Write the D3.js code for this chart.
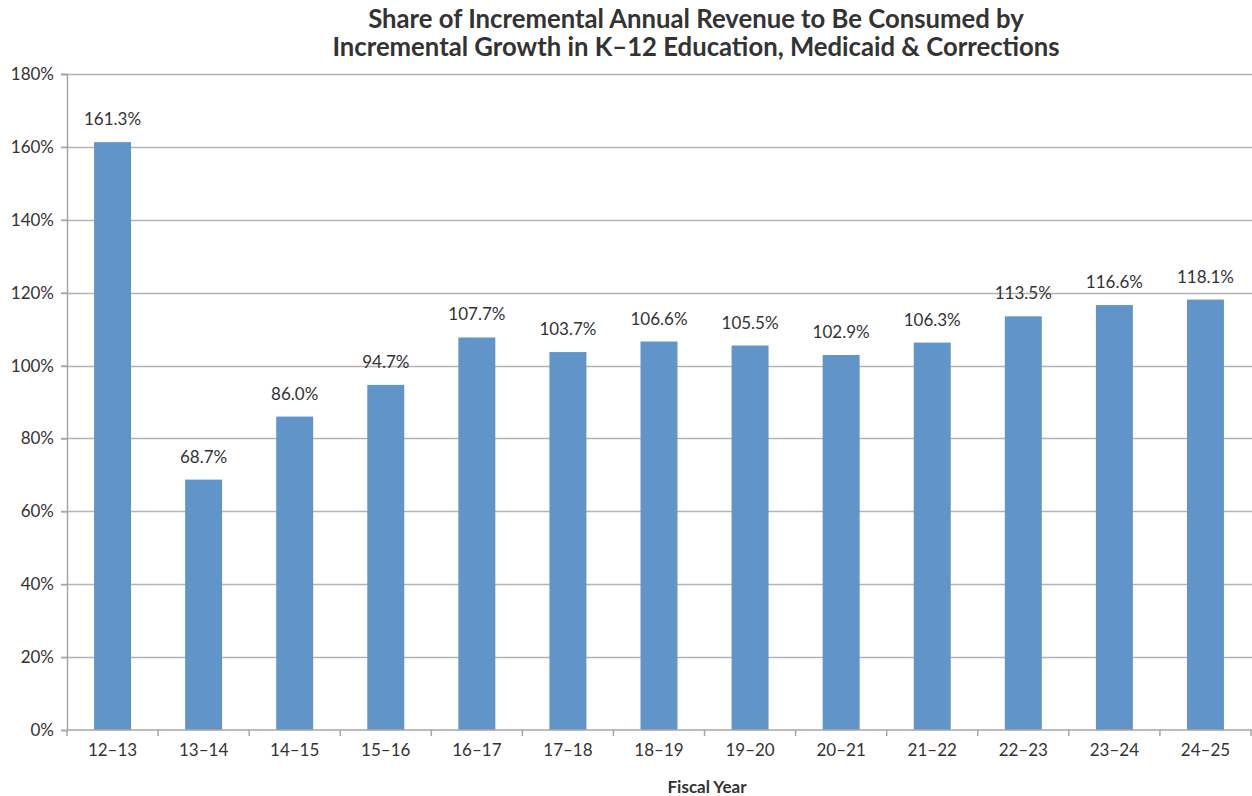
<!DOCTYPE html>
<html>
<head>
<meta charset="utf-8">
<script src="https://cdn.jsdelivr.net/npm/d3@7"></script>
<style>
  body { margin: 0; background: #fff; }
  svg { display: block; }
</style>
</head>
<body>
<svg id="chart"></svg>
<script>
// Fiscal years and share of incremental revenue consumed (%)
const years = ["12–13","13–14","14–15","15–16","16–17","17–18","18–19","19–20","20–21","21–22","22–23","23–24","24–25"];
const shares = [161.3, 68.7, 86.0, 94.7, 107.7, 103.7, 106.6, 105.5, 102.9, 106.3, 113.5, 116.6, 118.1];
const yTicks = [0, 20, 40, 60, 80, 100, 120, 140, 160, 180];

const width = 1252, height = 796;
const margin = {top: 74, right: 1, bottom: 66, left: 67};

const svg = d3.select("#chart").attr("width", width).attr("height", height);
const fontFam = "Lato, 'Open Sans', sans-serif";

const x = d3.scaleBand()
  .domain(years)
  .range([margin.left, width - margin.right])
  .paddingInner(0.594)
  .paddingOuter(0.297);

const y = d3.scaleLinear()
  .domain([0, 180])
  .range([height - margin.bottom, margin.top]);

// gridlines
svg.append("g")
  .selectAll("line")
  .data(yTicks.slice(1))
  .enter().append("line")
  .attr("x1", margin.left - 6)
  .attr("x2", width)
  .attr("y1", d => Math.round(y(d)) + 0.5)
  .attr("y2", d => Math.round(y(d)) + 0.5)
  .attr("stroke", "#b3b3b3")
  .attr("stroke-width", 1.5);

// bars
svg.append("g")
  .selectAll("rect")
  .data(shares)
  .enter().append("rect")
  .attr("x", (d, i) => x(years[i]))
  .attr("width", x.bandwidth())
  .attr("y", d => y(d))
  .attr("height", d => y(0) - y(d))
  .attr("fill", "#6195c9");

// value labels
svg.append("g")
  .selectAll("text")
  .data(shares)
  .enter().append("text")
  .attr("x", (d, i) => x(years[i]) + x.bandwidth() / 2)
  .attr("y", d => y(d) - 17)
  .attr("text-anchor", "middle")
  .attr("font-family", fontFam)
  .attr("font-size", 17)
  .attr("fill", "#333")
  .text(d => d.toFixed(1) + "%");

// y axis
const yAxis = svg.append("g")
  .attr("transform", `translate(${margin.left},0)`)
  .call(d3.axisLeft(y).tickValues(yTicks).tickFormat(d => d + "%").tickSize(6).tickPadding(7));
yAxis.selectAll("path, line").attr("stroke", "#a6a6a6").attr("stroke-width", 1.5);
yAxis.selectAll("text").attr("font-family", fontFam).attr("font-size", 17).attr("fill", "#333");

// x axis with ticks at category boundaries
const xAxisG = svg.append("g")
  .attr("transform", `translate(0,${y(0)})`);
xAxisG.append("line")
  .attr("x1", margin.left).attr("x2", width)
  .attr("stroke", "#a6a6a6").attr("stroke-width", 1.5);
const step = x.step();
xAxisG.selectAll("line.tick")
  .data(d3.range(years.length + 1))
  .enter().append("line")
  .attr("class", "tick")
  .attr("x1", i => margin.left + i * step)
  .attr("x2", i => margin.left + i * step)
  .attr("y1", 0).attr("y2", 6)
  .attr("stroke", "#a6a6a6").attr("stroke-width", 1.5);
xAxisG.selectAll("text")
  .data(years)
  .enter().append("text")
  .attr("x", d => x(d) + x.bandwidth() / 2)
  .attr("y", 26)
  .attr("text-anchor", "middle")
  .attr("font-family", fontFam)
  .attr("font-size", 17)
  .attr("fill", "#333")
  .text(d => d);

// axis title
svg.append("text")
  .attr("x", 707).attr("y", 793)
  .attr("text-anchor", "middle")
  .attr("font-family", fontFam)
  .attr("font-weight", "bold")
  .attr("font-size", 17)
  .attr("fill", "#333")
  .text("Fiscal Year");

// chart title
const title = svg.append("text")
  .attr("text-anchor", "middle")
  .attr("font-family", fontFam)
  .attr("font-weight", "bold")
  .attr("font-size", 25.7)
  .attr("fill", "#333");
title.append("tspan").attr("x", 696).attr("y", 28).text("Share of Incremental Annual Revenue to Be Consumed by");
title.append("tspan").attr("x", 696).attr("y", 56).text("Incremental Growth in K–12 Education, Medicaid & Corrections");
</script>
</body>
</html>
